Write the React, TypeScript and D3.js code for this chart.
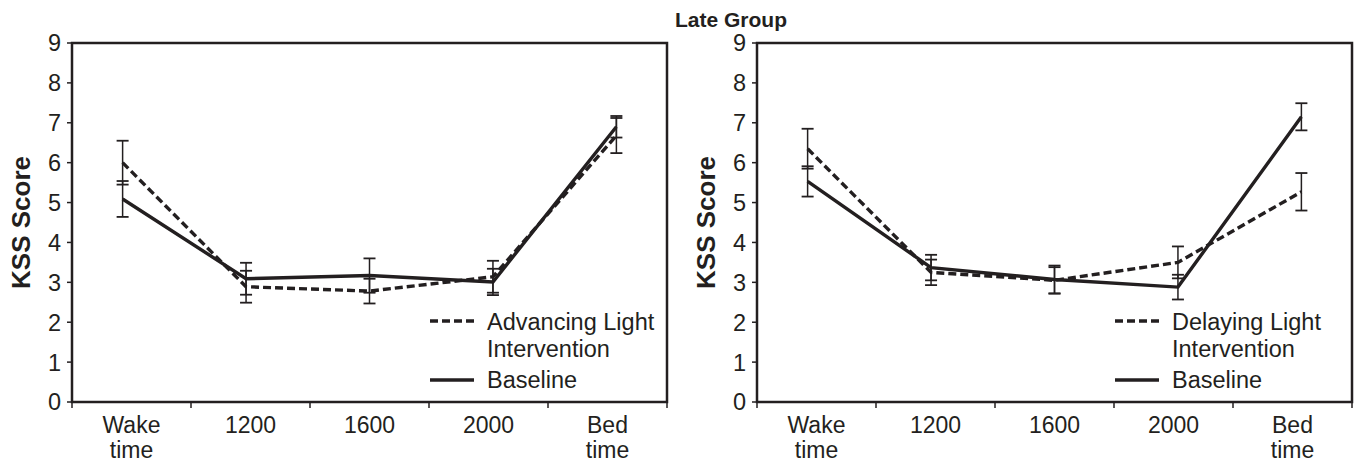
import React, { useRef, useEffect } from 'react';
import * as d3 from 'd3';

const categories = ['Wake time', '1200', '1600', '2000', 'Bed time'];
const yTicks = [0, 1, 2, 3, 4, 5, 6, 7, 8, 9];

// Late group, advancing panel
const advMean = [6.0, 2.89, 2.78, 3.14, 6.68];
const advErr = [0.55, 0.4, 0.31, 0.4, 0.44];
const advBaseMean = [5.09, 3.09, 3.17, 3.01, 6.9];
const advBaseErr = [0.45, 0.4, 0.43, 0.33, 0.27];

// Late group, delaying panel
const delMean = [6.35, 3.25, 3.05, 3.5, 5.27];
const delErr = [0.5, 0.32, 0.33, 0.4, 0.47];
const delBaseMean = [5.53, 3.37, 3.07, 2.88, 7.15];
const delBaseErr = [0.38, 0.32, 0.35, 0.31, 0.34];

const title = 'Late Group';
const yLabel = 'KSS Score';

const ink = '#231f20';
const font = '"Liberation Sans", Arial, Helvetica, sans-serif';

const App = () => {
  const svgRef = useRef<SVGSVGElement>(null);

  useEffect(() => {
    const svg = d3.select(svgRef.current);
    svg.selectAll('*').remove();

    const top = 43;
    const bottom = 402;
    const plotW = 595;

    svg.append('text')
      .attr('x', 731)
      .attr('y', 27)
      .attr('text-anchor', 'middle')
      .attr('font-family', font)
      .attr('font-weight', 'bold')
      .attr('font-size', 21)
      .attr('fill', ink)
      .text(title);

    const panels = [
      { left: 72, inter: advMean, interErr: advErr, base: advBaseMean, baseErr: advBaseErr, legend: ['Advancing Light', 'Intervention'] },
      { left: 757, inter: delMean, interErr: delErr, base: delBaseMean, baseErr: delBaseErr, legend: ['Delaying Light', 'Intervention'] }
    ];

    panels.forEach(p => {
      const g = svg.append('g').attr('transform', `translate(${p.left},0)`);

      const xBand = d3.scaleBand().domain(categories).range([0, plotW]);
      const x = d3.scalePoint().domain(categories).range([0, plotW]).padding(0.41);
      const y = d3.scaleLinear().domain([0, 9]).range([bottom, top]);

      // frame
      g.append('rect')
        .attr('x', 0)
        .attr('y', top)
        .attr('width', plotW)
        .attr('height', bottom - top)
        .attr('fill', 'none')
        .attr('stroke', ink)
        .attr('stroke-width', 2.5);

      // y ticks
      g.selectAll('.ytick')
        .data(yTicks)
        .enter().append('line')
        .attr('x1', -5)
        .attr('x2', 0)
        .attr('y1', d => y(d))
        .attr('y2', d => y(d))
        .attr('stroke', ink)
        .attr('stroke-width', 1.5);

      g.selectAll('.ylab')
        .data(yTicks)
        .enter().append('text')
        .attr('x', -11)
        .attr('y', d => y(d))
        .attr('dy', '0.36em')
        .attr('text-anchor', 'end')
        .attr('font-family', font)
        .attr('font-size', 23.5)
        .attr('fill', ink)
        .text(d => d);

      // x ticks at band edges
      const edges = categories.map(c => xBand(c) as number).concat([plotW]);
      g.selectAll('.xtick')
        .data(edges)
        .enter().append('line')
        .attr('x1', d => d)
        .attr('x2', d => d)
        .attr('y1', bottom)
        .attr('y2', bottom + 6)
        .attr('stroke', ink)
        .attr('stroke-width', 1.5);

      const xl = g.selectAll('.xlab')
        .data(categories)
        .enter().append('text')
        .attr('x', d => (xBand(d) as number) + xBand.bandwidth() / 2)
        .attr('y', bottom + 31)
        .attr('text-anchor', 'middle')
        .attr('font-family', font)
        .attr('font-size', 23)
        .attr('fill', ink);
      xl.each(function (d) {
        const words = d.split(' ');
        const t = d3.select(this);
        words.forEach((w, i) => {
          t.append('tspan')
            .attr('x', (xBand(d) as number) + xBand.bandwidth() / 2)
            .attr('dy', i === 0 ? 0 : 24.5)
            .text(w);
        });
      });

      // y label
      g.append('text')
        .attr('transform', `translate(-42,${(top + bottom) / 2}) rotate(-90)`)
        .attr('text-anchor', 'middle')
        .attr('font-family', font)
        .attr('font-weight', 'bold')
        .attr('font-size', 26)
        .attr('fill', ink)
        .text(yLabel);

      const series = [
        { mean: p.inter, err: p.interErr, dash: '8,4' },
        { mean: p.base, err: p.baseErr, dash: null }
      ];

      series.forEach(s => {
        const pts = categories.map((c, i) => ({ c, v: s.mean[i], e: s.err[i] }));

        // error bars
        const eb = g.append('g');
        pts.forEach(d => {
          const cx = x(d.c) as number;
          eb.append('line')
            .attr('x1', cx).attr('x2', cx)
            .attr('y1', y(d.v + d.e)).attr('y2', y(d.v - d.e))
            .attr('stroke', ink).attr('stroke-width', 1.5);
          [d.v + d.e, d.v - d.e].forEach(v => {
            eb.append('line')
              .attr('x1', cx - 6).attr('x2', cx + 6)
              .attr('y1', y(v)).attr('y2', y(v))
              .attr('stroke', ink).attr('stroke-width', 1.8);
          });
        });

        const line = d3.line<{ c: string; v: number }>()
          .x(d => x(d.c) as number)
          .y(d => y(d.v));

        g.append('path')
          .datum(pts)
          .attr('fill', 'none')
          .attr('stroke', ink)
          .attr('stroke-width', 3.4)
          .attr('stroke-dasharray', s.dash)
          .attr('d', line);
      });

      // legend
      const lg = g.append('g');
      lg.append('line')
        .attr('x1', 358).attr('x2', 402)
        .attr('y1', 321).attr('y2', 321)
        .attr('stroke', ink).attr('stroke-width', 3.4)
        .attr('stroke-dasharray', '8,4');
      p.legend.forEach((t, i) => {
        lg.append('text')
          .attr('x', 415)
          .attr('y', 330 + i * 26.5)
          .attr('font-family', font)
          .attr('font-size', 23.5)
          .attr('fill', ink)
          .text(t);
      });
      lg.append('line')
        .attr('x1', 358).attr('x2', 402)
        .attr('y1', 380).attr('y2', 380)
        .attr('stroke', ink).attr('stroke-width', 3.4);
      lg.append('text')
        .attr('x', 415)
        .attr('y', 388)
        .attr('font-family', font)
        .attr('font-size', 23.5)
        .attr('fill', ink)
        .text('Baseline');
    });
  }, []);

  return (
    <svg ref={svgRef} width={1358} height={466} style={{ position: 'absolute', left: 0, top: 0, background: '#fff' }} />
  );
};

export default App;
